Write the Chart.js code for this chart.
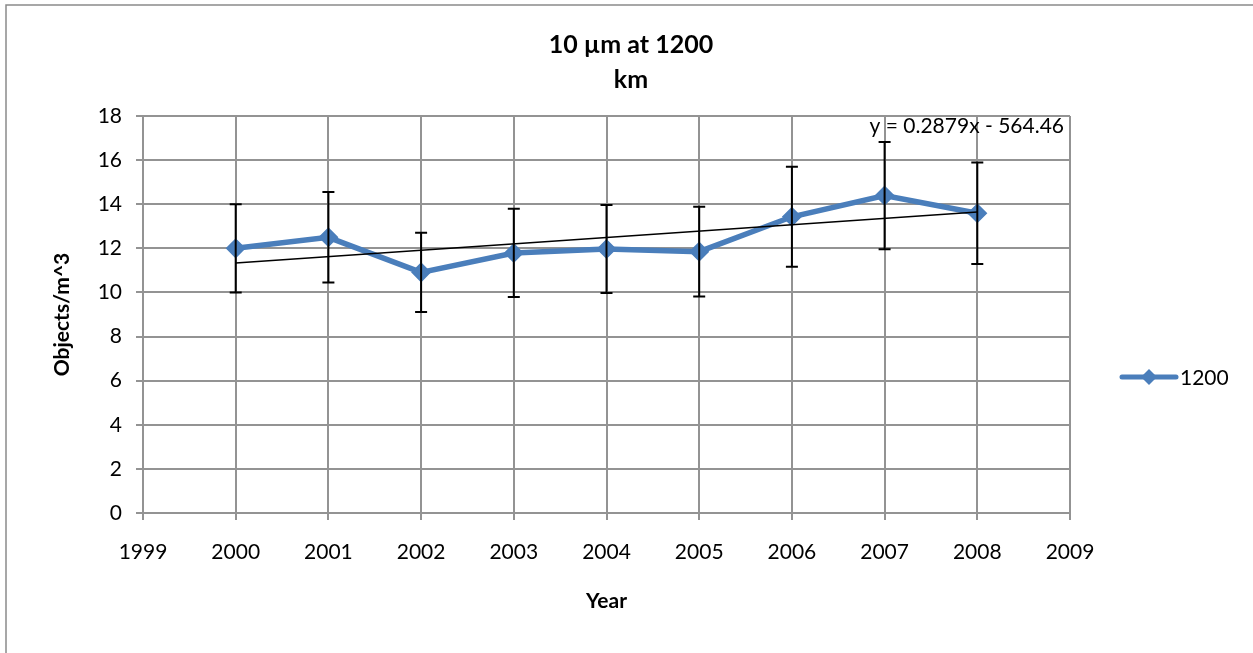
<!DOCTYPE html>
<html lang="en">
<head>
<meta charset="UTF-8">
<title>10 µm at 1200 km</title>
<script src="https://cdn.jsdelivr.net/npm/chart.js"></script>
<style>
  html, body { margin: 0; padding: 0; background: #fff; }
  #wrap { width: 1253px; height: 653px; position: relative; }
</style>
</head>
<body>
<div id="wrap"><canvas id="myChart" width="1253" height="653"></canvas></div>
<script>
// yearly means and error bar half-widths
const years = [2000, 2001, 2002, 2003, 2004, 2005, 2006, 2007, 2008];
const objects = [12.0, 12.5, 10.91, 11.79, 11.97, 11.85, 13.43, 14.39, 13.59];
const errors = [2.0, 2.05, 1.8, 2.0, 2.0, 2.03, 2.27, 2.43, 2.3];
const yTicks = [0, 2, 4, 6, 8, 10, 12, 14, 16, 18];
const xTicks = [1999, 2000, 2001, 2002, 2003, 2004, 2005, 2006, 2007, 2008, 2009];
// linear trend y = slope*x + intercept
const slope = 0.2879;
const intercept = -564.46;

const FONT = 'Lato, "Open Sans", sans-serif';
const blue = '#4A7EBB';
const gridGray = '#939393';

const trend = [years[0], years[years.length - 1]].map(x => ({x: x, y: slope * x + intercept}));

const extras = {
    id: 'extras',
    afterDatasetsDraw(chart) {
        const ctx = chart.ctx;
        const xs = chart.scales.x, ys = chart.scales.y;
        ctx.save();
        // error bars
        ctx.strokeStyle = '#000';
        ctx.lineWidth = 2;
        years.forEach((yr, i) => {
            const px = xs.getPixelForValue(yr);
            const top = ys.getPixelForValue(objects[i] + errors[i]);
            const bot = ys.getPixelForValue(objects[i] - errors[i]);
            ctx.beginPath();
            ctx.moveTo(px, top); ctx.lineTo(px, bot);
            ctx.moveTo(px - 6, top); ctx.lineTo(px + 6, top);
            ctx.moveTo(px - 6, bot); ctx.lineTo(px + 6, bot);
            ctx.stroke();
        });
        ctx.restore();
    },
    afterDraw(chart) {
        const ctx = chart.ctx;
        const area = chart.chartArea;
        ctx.save();
        // outer frame
        ctx.strokeStyle = '#8a8a8a';
        ctx.lineWidth = 1.5;
        ctx.beginPath();
        ctx.moveTo(6, 660); ctx.lineTo(6, 5); ctx.lineTo(1260, 5);
        ctx.stroke();

        ctx.fillStyle = '#000';
        ctx.textAlign = 'center';
        ctx.textBaseline = 'middle';
        ctx.font = 'bold 25px ' + FONT;
        ctx.fillText('10 µm at 1200', 631, 45);
        ctx.fillText('km', 631, 80);

        ctx.font = 'bold 21px ' + FONT;
        ctx.fillText('Year', (area.left + area.right) / 2, 601);
        ctx.save();
        ctx.translate(62, (area.top + area.bottom) / 2);
        ctx.rotate(-Math.PI / 2);
        ctx.fillText('Objects/m^3', 0, 0);
        ctx.restore();

        // trend equation
        ctx.font = '21px ' + FONT;
        ctx.textAlign = 'right';
        ctx.fillText('y = 0.2879x - 564.46', 1064, 126);

        // legend
        ctx.strokeStyle = blue;
        ctx.lineWidth = 5;
        ctx.lineCap = 'round';
        ctx.beginPath();
        ctx.moveTo(1122, 377); ctx.lineTo(1176, 377);
        ctx.stroke();
        ctx.fillStyle = blue;
        ctx.beginPath();
        ctx.moveTo(1149, 369); ctx.lineTo(1157, 377); ctx.lineTo(1149, 385); ctx.lineTo(1141, 377);
        ctx.closePath();
        ctx.fill();
        ctx.fillStyle = '#000';
        ctx.textAlign = 'left';
        ctx.font = '21px ' + FONT;
        ctx.fillText('1200', 1180, 378);
        ctx.restore();
    }
};

const ctx = document.getElementById('myChart').getContext('2d');
new Chart(ctx, {
    type: 'line',
    data: {
        datasets: [{
            label: '1200',
            data: years.map((y, i) => ({x: y, y: objects[i]})),
            borderColor: blue,
            backgroundColor: blue,
            borderWidth: 5.5,
            pointStyle: 'rectRot',
            pointRadius: 9,
            pointHoverRadius: 9,
            pointBorderWidth: 1.5,
            tension: 0,
            order: 2
        }, {
            label: 'trend',
            data: trend,
            borderColor: '#000',
            borderWidth: 1.5,
            pointRadius: 0,
            tension: 0,
            order: 1
        }]
    },
    plugins: [extras],
    options: {
        responsive: false,
        animation: false,
        layout: { padding: { top: 116, right: 183, left: 0, bottom: 0 } },
        plugins: {
            legend: { display: false },
            title: { display: false },
            tooltip: { enabled: false }
        },
        scales: {
            x: {
                type: 'linear',
                min: 1999,
                max: 2009,
                afterFit: s => { s.height = 140; },
                afterBuildTicks: s => { s.ticks = xTicks.map(v => ({value: v})); },
                grid: { color: gridGray, lineWidth: 2, tickLength: 7 },
                border: { color: gridGray, width: 2 },
                ticks: {
                    color: '#000',
                    padding: 20,
                    maxRotation: 0,
                    font: { family: FONT, size: 21 },
                    callback: v => String(v)
                }
            },
            y: {
                min: 0,
                max: 18,
                afterFit: s => { s.width = 143; },
                afterBuildTicks: s => { s.ticks = yTicks.map(v => ({value: v})); },
                grid: { color: gridGray, lineWidth: 2, tickLength: 7 },
                border: { color: gridGray, width: 2 },
                ticks: {
                    color: '#000',
                    padding: 14,
                    font: { family: FONT, size: 21 }
                }
            }
        }
    }
});
</script>
</body>
</html>
